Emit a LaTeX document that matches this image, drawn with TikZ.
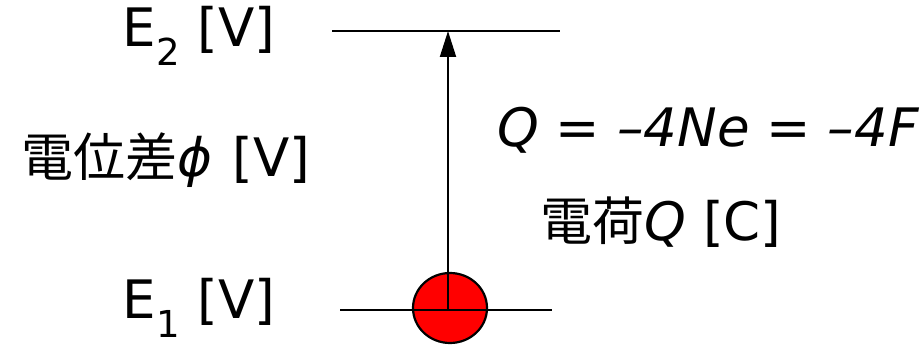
\documentclass[tikz,border=0pt]{standalone}
\usepackage{fontspec}
\setmainfont{DejaVu Sans}
\newfontfamily\jp{Noto Sans CJK JP}
\newcommand\kanji[1]{{\jp\fontsize{52}{56}\selectfont #1}}
\usetikzlibrary{arrows.meta,shapes.geometric}
\begin{document}
\begin{tikzpicture}[x=1pt,y=-1pt,
  lvl/.style={line width=2.2pt},
  lbl/.style={inner sep=0pt,font=\fontsize{53}{58}\selectfont},
  eqs/.style={inner sep=0pt,font=\fontsize{53}{58}\selectfont\itshape},
  elec/.style={ellipse,draw,line width=2.2pt,fill=red,minimum width=74pt,minimum height=70pt,inner sep=0pt}]
\useasboundingbox (0,0) rectangle (920,345);
\coordinate (t1) at (332,31);
\coordinate (t2) at (560,31);
\coordinate (b1) at (340,310);
\coordinate (b2) at (552,310);
\node[elec] (e) at (450,308) {};
\draw[lvl] (b1) -- (b2);
\coordinate (c) at (448,310);
\coordinate (top) at (448,31);
\draw[lvl] (t1) -- (t2);
\draw[line width=2pt,-{Triangle[length=26pt,width=16pt]}] (c) -- (top);
\node[lbl] (E2) at (199,36) {E\textsubscript{2} [V]};
\node[lbl] (E1) at (199,308) {E\textsubscript{1} [V]};
\node[lbl] (phi) at (166,160) {\kanji{電位差}{\itshape ϕ}\hspace{3pt} [V]};
\node[eqs] (eq) at (708,130) {Q = –4Ne = –4F};
\node[lbl] (q) at (661,222) {\kanji{電荷}{\itshape Q} [C]};
\end{tikzpicture}
\end{document}
